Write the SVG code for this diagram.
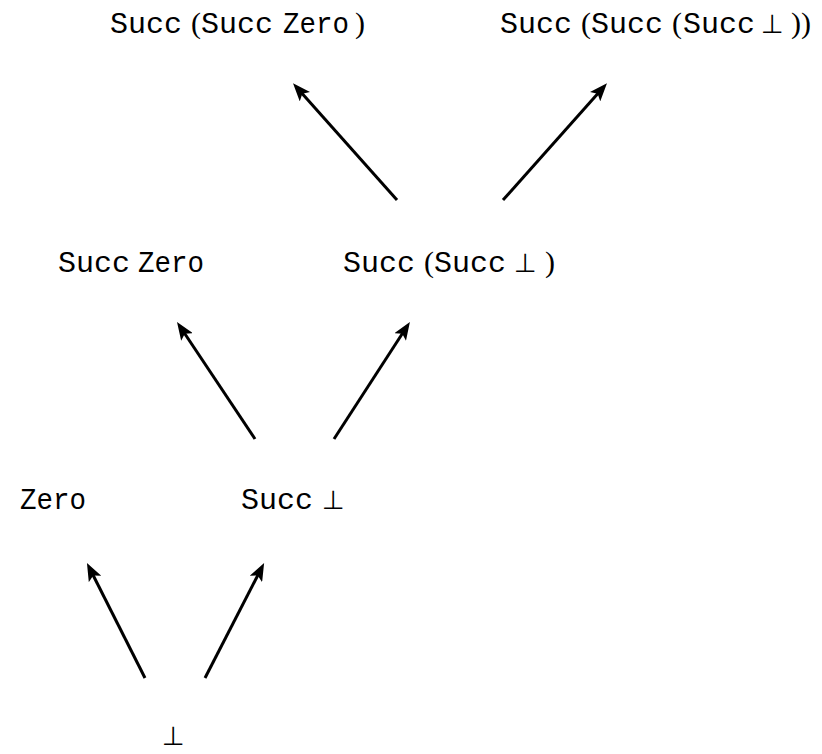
<svg xmlns="http://www.w3.org/2000/svg" width="822" height="754" viewBox="0 0 822 754">
<style>
.tt{font-family:"Liberation Mono","DejaVu Sans Mono",monospace;font-size:29px;fill:#000}
.rm{font-family:"Liberation Serif","DejaVu Serif",serif;font-size:30px;fill:#000}
.bt{font-family:"DejaVu Sans","Noto Sans",sans-serif;font-size:26px;fill:#000}
.edge{stroke:#000;stroke-width:3;fill:none;marker-end:url(#ah)}
</style>
<defs>
<marker id="ah" markerUnits="userSpaceOnUse" viewBox="0 0 18 14" markerWidth="18" markerHeight="14" refX="9" refY="7" orient="auto">
<path d="M0,0 L18,7 L0,14 L4,7 z" fill="#000"/>
</marker>
</defs>
<g id="connectors">
<path class="edge" d="M397,200 L299,90"/>
<path class="edge" d="M503,200 L601,90"/>
<path class="edge" d="M255,439 L182,329.5"/>
<path class="edge" d="M334,439 L405,329.5"/>
<path class="edge" d="M145,678 L91,571"/>
<path class="edge" d="M205,678 L260,571"/>
</g>
<g id="n_ssz">
<text class="tt" x="110" y="33" textLength="72" lengthAdjust="spacingAndGlyphs">Succ</text>
<text class="rm" x="191" y="33">(</text>
<text class="tt" x="201" y="33" textLength="72" lengthAdjust="spacingAndGlyphs">Succ</text>
<text class="tt" x="283" y="33" textLength="66" lengthAdjust="spacingAndGlyphs">Zero</text>
<text class="rm" x="355" y="33">)</text>
</g>
<g id="n_sssb">
<text class="tt" x="500" y="33" textLength="72" lengthAdjust="spacingAndGlyphs">Succ</text>
<text class="rm" x="581" y="33">(</text>
<text class="tt" x="591" y="33" textLength="72" lengthAdjust="spacingAndGlyphs">Succ</text>
<text class="rm" x="672" y="33">(</text>
<text class="tt" x="683" y="33" textLength="72" lengthAdjust="spacingAndGlyphs">Succ</text>
<text class="bt" x="761" y="33">⊥</text>
<text class="rm" x="791" y="33">))</text>
</g>
<g id="n_sz">
<text class="tt" x="58" y="272" textLength="72" lengthAdjust="spacingAndGlyphs">Succ</text>
<text class="tt" x="138" y="272" textLength="66" lengthAdjust="spacingAndGlyphs">Zero</text>
</g>
<g id="n_ssb">
<text class="tt" x="343" y="272" textLength="72" lengthAdjust="spacingAndGlyphs">Succ</text>
<text class="rm" x="424" y="272">(</text>
<text class="tt" x="434" y="272" textLength="72" lengthAdjust="spacingAndGlyphs">Succ</text>
<text class="bt" x="514" y="272">⊥</text>
<text class="rm" x="545" y="272">)</text>
</g>
<g id="n_z">
<text class="tt" x="20" y="509" textLength="66" lengthAdjust="spacingAndGlyphs">Zero</text>
</g>
<g id="n_sb">
<text class="tt" x="241" y="509" textLength="72" lengthAdjust="spacingAndGlyphs">Succ</text>
<text class="bt" x="322" y="509">⊥</text>
</g>
<g id="n_b">
<text class="bt" x="162" y="745">⊥</text>
</g>
</svg>
